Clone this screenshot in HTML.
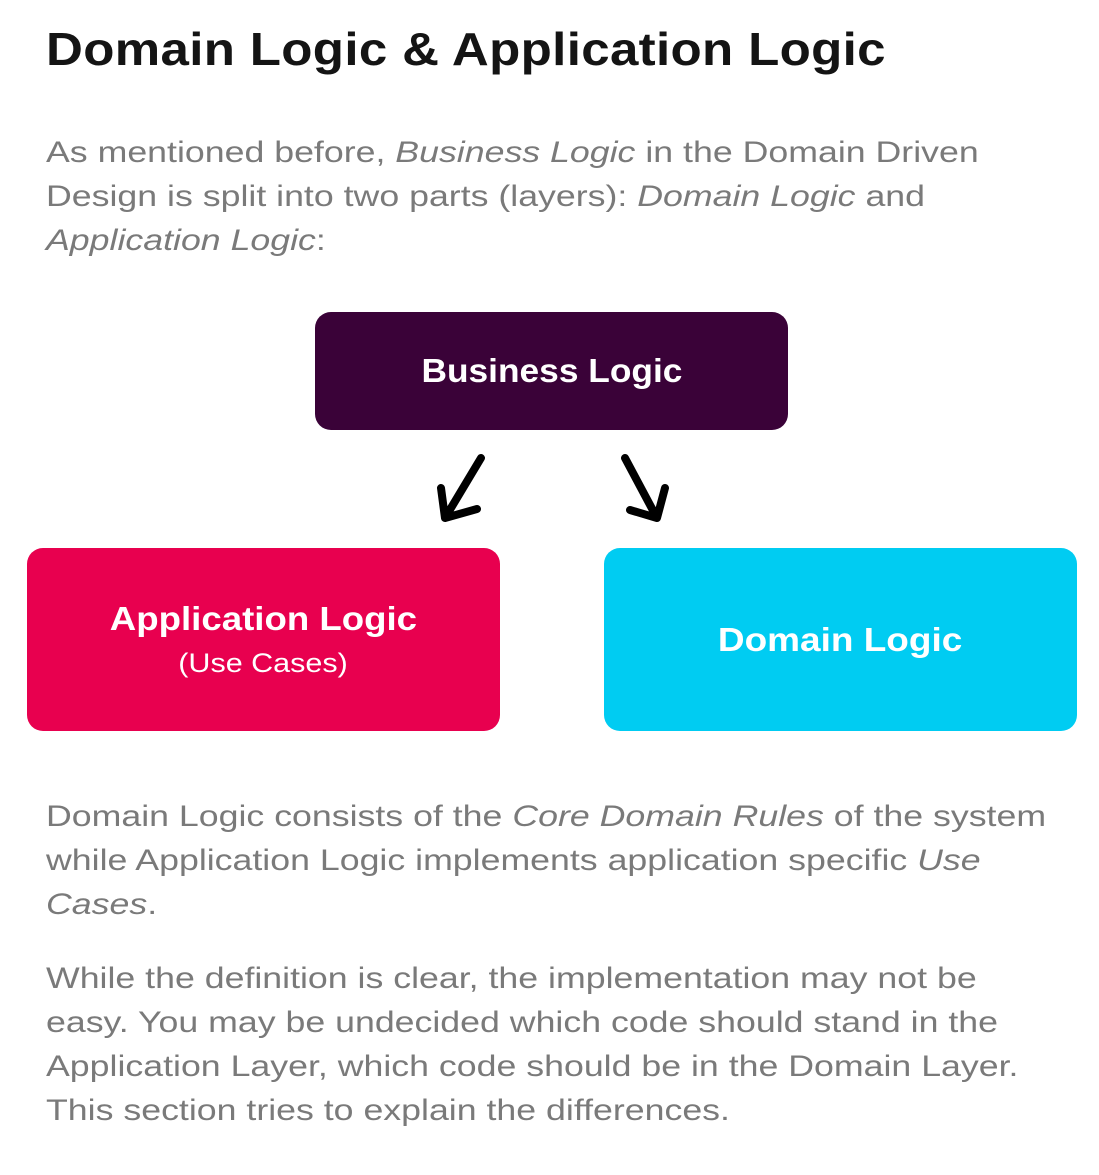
<!DOCTYPE html>
<html><head><style>
body{margin:0;width:1099px;height:1175px;background:#fff;position:relative;font-family:"Liberation Sans",sans-serif;overflow:hidden}
h1{position:absolute;left:46px;top:22px;margin:0;font-size:46px;font-weight:bold;color:#141414;letter-spacing:0.3px;transform:scaleX(1.11);transform-origin:left;white-space:nowrap}
.p{position:absolute;left:46px;font-size:30px;line-height:44px;color:#7a7a7a;width:900px;transform:scaleX(1.19);transform-origin:left;white-space:nowrap}
.box{position:absolute;border-radius:16px;color:#fff;font-weight:bold;text-align:center;display:flex;flex-direction:column;justify-content:center;align-items:center}
.box span{display:inline-block;transform:scaleX(1.11)}
</style></head><body>
<h1>Domain Logic &amp; Application Logic</h1>
<div class="p" style="top:131px">As mentioned before, <i>Business Logic</i> in the Domain Driven<br>Design is split into two parts (layers): <i>Domain Logic</i> and<br><i>Application Logic</i>:</div>
<div class="box" style="left:315px;top:312px;width:473px;height:118px;background:#3a0238;font-size:33px"><span style="transform:scaleX(1.07)">Business Logic</span></div>
<svg style="position:absolute;left:0;top:0" width="1099" height="1175">
<g stroke="#000" stroke-width="8" stroke-linecap="round" stroke-linejoin="round" fill="none">
<path d="M481 458 L445 518 M441 488 L445 518 L477 509"/>
<path d="M625 458 L657 518 M665 488 L657 518 L630 510"/>
</g></svg>
<div class="box" style="left:27px;top:548px;width:473px;height:183px;background:#e8004f;font-size:33px"><span>Application Logic</span><span style="font-weight:normal;font-size:27px;margin-top:10px;transform:scaleX(1.13)">(Use Cases)</span></div>
<div class="box" style="left:604px;top:548px;width:473px;height:183px;background:#00ccf2;font-size:33px"><span style="transform:scaleX(1.12)">Domain Logic</span></div>
<div class="p" style="top:795px">Domain Logic consists of the <i>Core Domain Rules</i> of the system<br>while Application Logic implements application specific <i>Use<br>Cases</i>.</div>
<div class="p" style="top:957px">While the definition is clear, the implementation may not be<br>easy. You may be undecided which code should stand in the<br>Application Layer, which code should be in the Domain Layer.<br>This section tries to explain the differences.</div>
</body></html>
